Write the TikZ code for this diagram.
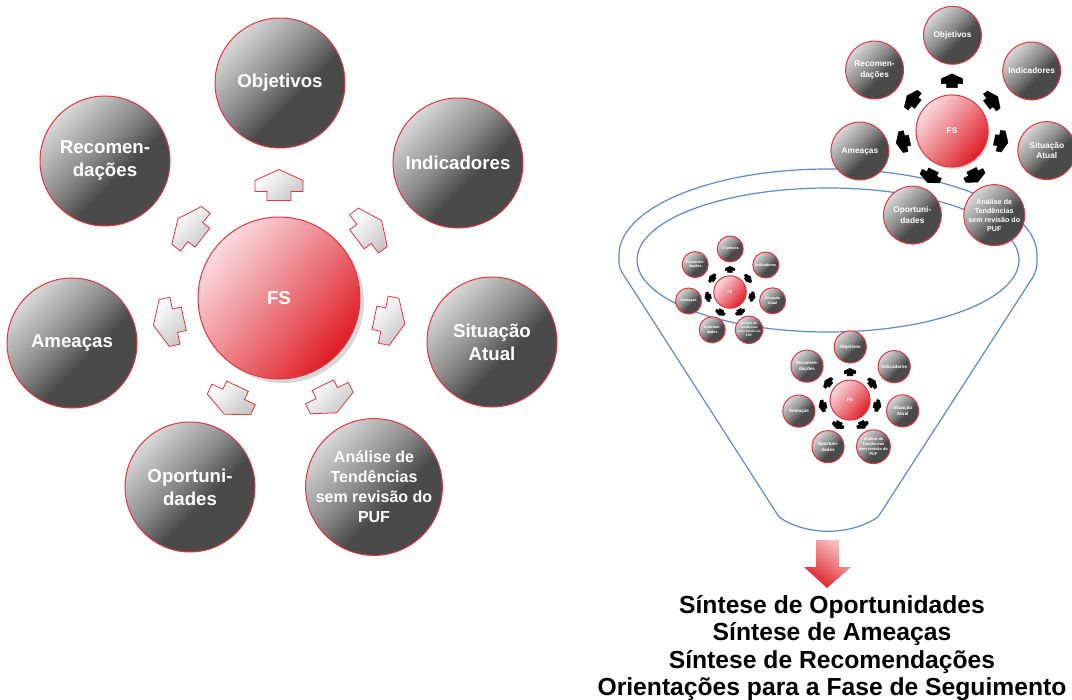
\documentclass[tikz,border=0pt]{standalone}
\usepackage{fontspec}
\setmainfont{Liberation Sans}
\definecolor{ballrim}{HTML}{E3343F}
\definecolor{bglight}{HTML}{D9D9D9}
\definecolor{bgmid}{HTML}{8C8C8C}
\definecolor{bgdark}{HTML}{4A4A4A}
\definecolor{fslight}{HTML}{FADCE0}
\definecolor{fsmida}{HTML}{F09DA4}
\definecolor{fsmidb}{HTML}{E85860}
\definecolor{fsdark}{HTML}{DF1B24}
\definecolor{arrowgrey}{HTML}{C8C8C8}
\definecolor{funnelblue}{HTML}{5B8BC9}
\definecolor{shadowgrey}{HTML}{D8D8D8}
\definecolor{redlight}{HTML}{F6C4C8}
\pgfdeclareverticalshading{ballgrey}{100bp}{color(0bp)=(bgdark); color(25bp)=(bgdark); color(42bp)=(bgdark); color(55bp)=(bgmid); color(75bp)=(bglight); color(100bp)=(bglight)}
\pgfdeclareverticalshading{ballred}{100bp}{color(0bp)=(fsdark); color(25bp)=(fsdark); color(40bp)=(fsmidb); color(58bp)=(fsmida); color(75bp)=(fslight); color(100bp)=(fslight)}
\newcommand{\fsdiagram}[2]{%
  \fill[shadowgrey] (4,4) circle[radius=81];
  \node[fsball] (#1fs) at (0,0) {FS};
  \node[outerball] (#1obj) at (1,-215) {Objetivos};
  \node[outerball] (#1ind) at (179,-135) {Indicadores};
  \node[outerball] (#1sit) at (213,44) {Situação\\Atual};
  \node[outerball, font=\fontsize{12}{15}\selectfont\bfseries] (#1ana) at (95,189) {Análise de\\Tendências\\sem revisão do\\PUF};
  \node[outerball] (#1opo) at (-89,189) {Oportuni-\\dades};
  \node[outerball] (#1ame) at (-207,45) {Ameaças};
  \node[outerball] (#1rec) at (-174,-137) {Recomen-\\dações};
  \foreach \a in {90,37,-11.7,-63.3,-115.2,-167.7,141.8}
    \draw[#2, shift={({113*cos(\a)},{-113*sin(\a)})}, rotate=\a]
      (-15.5,-12) -- (-6.5,-12) -- (-6.5,-24) -- (4.5,-24) -- (15.5,0)
      -- (4.5,24) -- (-6.5,24) -- (-6.5,12) -- (-15.5,12) -- cycle;
}
\begin{document}
\begin{tikzpicture}[x=0.75pt,y=-0.75pt,
  outerball/.style={circle, minimum size=97.5pt, inner sep=0pt, draw=ballrim, line width=0.75pt,
    shading=ballgrey, shading angle=45, text=white, align=center,
    font=\fontsize{14}{17.25}\selectfont\bfseries},
  fsball/.style={circle, minimum size=121.5pt, inner sep=0pt, draw=ballrim, line width=0.75pt,
    shading=ballred, shading angle=50, text=white, font=\fontsize{14}{17}\selectfont\bfseries},
  lightarrow/.style={draw=ballrim, line width=0.6pt, top color=white, bottom color=arrowgrey, shading angle=45},
  darkarrow/.style={draw=black, fill=black, line width=0.3pt},
  funnel/.style={draw=funnelblue, line width=0.9pt},
  redarrow/.style={draw=none, top color=redlight, bottom color=fsdark, shading angle=-35},
  synthtext/.style={font=\fontsize{18.5}{20.6}\selectfont\bfseries, align=center}
]
\useasboundingbox (0,0) rectangle (1072,700);

% funnel
\draw[funnel] (779,517) -- (625,277) .. controls (619,268) .. (619,255)
  arc[start angle=180, end angle=360, x radius=209, y radius=86]
  .. controls (1037,268) .. (1033,277) -- (878,517)
  .. controls (850,536) and (806,536) .. cycle;
\draw[funnel] (828,260) ellipse[x radius=191, y radius=72];

% main diagram
\begin{scope}[shift={(279,298)}]
  \fsdiagram{L}{lightarrow}
\end{scope}

% small diagrams
\begin{scope}[shift={(952,131)}, scale=0.445, transform shape]
  \fsdiagram{T}{darkarrow}
\end{scope}
\begin{scope}[shift={(730,292)}, scale=0.2, transform shape]
  \fsdiagram{S}{darkarrow}
\end{scope}
\begin{scope}[shift={(850,400)}, scale=0.247, transform shape]
  \fsdiagram{M}{darkarrow}
\end{scope}

% output arrow and text
\draw[redarrow] (816,540) -- (839,540) -- (839,567) -- (851,567) -- (827,588) -- (804,567) -- (816,567) -- cycle;
\node[synthtext] (synth) at (832,648) {Síntese de Oportunidades\\Síntese de Ameaças\\Síntese de Recomendações\\Orientações para a Fase de Seguimento};
\end{tikzpicture}
\end{document}
